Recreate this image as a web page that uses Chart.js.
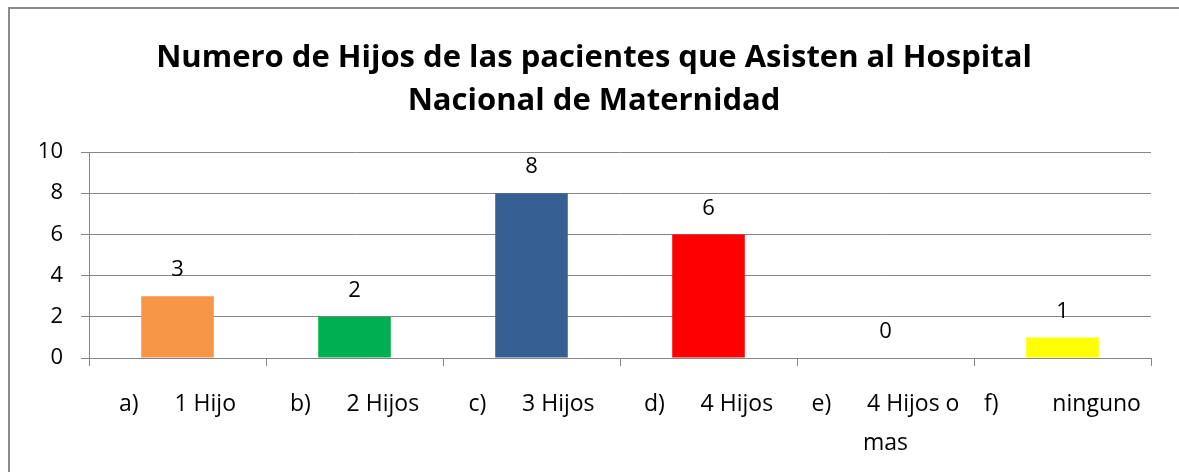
<!DOCTYPE html>
<html>
<head>
<meta charset="utf-8">
<script src="https://cdn.jsdelivr.net/npm/chart.js@4"></script>
<style>
  html, body { margin: 0; padding: 0; background: #fff; overflow: hidden; }
  #graphCanvas { display: block; }
</style>
</head>
<body>
<canvas id="graphCanvas" width="1179" height="472"></canvas>
<script>
// datos
const categorias = [
    ['a)      1 Hijo'],
    ['b)      2 Hijos'],
    ['c)      3 Hijos'],
    ['d)      4 Hijos'],
    ['e)      4 Hijos o', 'mas'],
    ['f)         ninguno']
];
const valores = [3, 2, 8, 6, 0, 1];
const colores = ['#F79646', '#00B050', '#376092', '#FF0000', '#FFFF00', '#FFFF00'];
const ticksY = [0, 2, 4, 6, 8, 10];
const titulo = ['Numero de Hijos de las pacientes que Asisten al Hospital', 'Nacional de Maternidad'];

const fuente = "'Open Sans', 'Noto Sans', sans-serif";
const gris = '#868686';

// marco del gráfico (solo borde izquierdo y superior visibles)
const marco = {
    id: 'marco',
    beforeDraw(chart) {
        let ctx = chart.ctx;
        ctx.save();
        ctx.strokeStyle = '#8c8c8c';
        ctx.lineWidth = 2;
        ctx.beginPath();
        ctx.moveTo(9, chart.height);
        ctx.lineTo(9, 8);
        ctx.lineTo(chart.width, 8);
        ctx.stroke();
        ctx.restore();
    }
};

// etiquetas de valor encima de cada barra
const etiquetasValor = {
    id: 'etiquetasValor',
    afterDatasetsDraw(chart) {
        let ctx = chart.ctx;
        let meta = chart.getDatasetMeta(0);
        ctx.save();
        ctx.font = '22px ' + fuente;
        ctx.fillStyle = '#000';
        ctx.textAlign = 'center';
        ctx.textBaseline = 'middle';
        meta.data.forEach(function(bar, i) {
            ctx.fillText(String(valores[i]), bar.x, bar.y - 26);
        });
        ctx.restore();
    }
};

let lineCanvas = document.getElementById('graphCanvas').getContext('2d');
let chart = new Chart(lineCanvas, {
    type: 'bar',
    data: {
        labels: categorias,
        datasets: [{
            data: valores,
            backgroundColor: colores,
            borderWidth: 0,
            barPercentage: 0.41,
            categoryPercentage: 1
        }]
    },
    options: {
        responsive: false,
        animation: false,
        devicePixelRatio: 1,
        layout: { padding: { top: 31, right: 28, left: 37, bottom: 0 } },
        plugins: {
            legend: { display: false },
            tooltip: { enabled: false },
            title: {
                display: true,
                text: titulo,
                color: '#000',
                font: { family: fuente, size: 31, weight: 'bold', lineHeight: '43px' },
                padding: { top: 6, bottom: 29 }
            }
        },
        scales: {
            x: {
                grid: { drawOnChartArea: false, drawTicks: true, tickLength: 8, color: gris, offset: true },
                border: { color: gris, width: 1 },
                ticks: {
                    color: '#000',
                    font: { family: fuente, size: 23, lineHeight: '39px' },
                    padding: 19,
                    maxRotation: 0,
                    autoSkip: false
                },
                afterFit(scale) { scale.height = 114; }
            },
            y: {
                min: 0,
                max: 10,
                afterBuildTicks(scale) { scale.ticks = ticksY.map(v => ({ value: v })); },
                grid: { color: gris, tickLength: 8, drawTicks: true },
                border: { color: gris, width: 1 },
                ticks: {
                    color: '#000',
                    font: { family: fuente, size: 22 },
                    padding: 18
                },
                afterFit(scale) { scale.width = 52; }
            }
        }
    },
    plugins: [marco, etiquetasValor]
});
</script>
</body>
</html>
